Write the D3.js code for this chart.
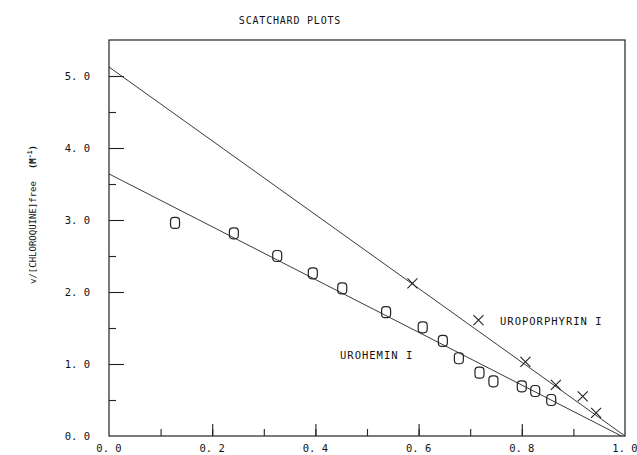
<!DOCTYPE html>
<html>
<head>
<meta charset="utf-8">
<script src="https://cdn.jsdelivr.net/npm/d3@7"></script>
<style>
  body { margin: 0; background: #fff; }
  text { font-family: "DejaVu Sans Mono", monospace; fill: #111; }
</style>
</head>
<body>
<svg width="637" height="455"></svg>
<script>
// urohemin I points (O markers)
let heminX = [0.128, 0.242, 0.326, 0.395, 0.452, 0.537, 0.608, 0.647, 0.678, 0.718, 0.745, 0.800, 0.826, 0.857];
let heminY = [2.96, 2.815, 2.50, 2.26, 2.05, 1.72, 1.51, 1.32, 1.08, 0.88, 0.76, 0.69, 0.625, 0.50];
// uroporphyrin I points (X markers)
let uroX = [0.588, 0.716, 0.807, 0.866, 0.918, 0.944];
let uroY = [2.12, 1.61, 1.03, 0.71, 0.55, 0.32];
// fitted lines (x, y end points)
let heminFit = [[0, 3.64], [0.993, 0]];
let uroFit = [[0, 5.125], [1.0, 0]];

let xTicks = [0, 0.2, 0.4, 0.6, 0.8, 1.0];
let yTicks = [0, 1, 2, 3, 4, 5];

let plotLeft = 109, plotRight = 625, plotTop = 40, plotBottom = 436;

var svg = d3.select('svg');

var x = d3.scaleLinear().domain([0, 1]).range([plotLeft, plotRight]);
var y = d3.scaleLinear().domain([0, 5.5]).range([plotBottom, plotTop]);

// frame
svg.append('rect')
    .attr('x', plotLeft)
    .attr('y', plotTop)
    .attr('width', plotRight - plotLeft)
    .attr('height', plotBottom - plotTop)
    .attr('fill', 'none')
    .attr('stroke', '#222')
    .attr('stroke-width', 1.2);

// x axis, ticks pointing inward
var xMinor = svg.append('g').attr('transform', `translate(0, ${plotBottom})`);
xMinor.call(d3.axisTop(x).tickValues(d3.range(0.1, 1.0, 0.1)).tickSize(7).tickFormat(''));
xMinor.select('.domain').remove();
var xMajor = svg.append('g').attr('transform', `translate(0, ${plotBottom})`);
xMajor.call(d3.axisTop(x).tickValues(xTicks.slice(1, 5)).tickSize(12).tickFormat(''));
xMajor.select('.domain').remove();

svg.append('g').selectAll('text')
    .data(xTicks)
    .enter()
    .append('text')
    .attr('x', d => x(d))
    .attr('y', 452)
    .attr('text-anchor', 'middle')
    .attr('font-size', 10.5)
    .text(d => d.toFixed(1).replace('.', '. '));

// y axis, ticks pointing inward
var yMinor = svg.append('g').attr('transform', `translate(${plotLeft}, 0)`);
yMinor.call(d3.axisRight(y).tickValues([0.5, 1.5, 2.5, 3.5, 4.5]).tickSize(7).tickFormat(''));
yMinor.select('.domain').remove();
var yMajor = svg.append('g').attr('transform', `translate(${plotLeft}, 0)`);
yMajor.call(d3.axisRight(y).tickValues(yTicks.slice(1)).tickSize(15).tickFormat(''));
yMajor.select('.domain').remove();
svg.selectAll('.tick line').attr('stroke', '#222').attr('stroke-width', 1.1);

svg.append('g').selectAll('text')
    .data(yTicks)
    .enter()
    .append('text')
    .attr('x', 90)
    .attr('y', d => y(d) + 4)
    .attr('text-anchor', 'end')
    .attr('font-size', 10.5)
    .text(d => d.toFixed(1).replace('.', '. '));

// fitted lines
var line = d3.line().x(d => x(d[0])).y(d => y(d[1]));
[heminFit, uroFit].forEach(f => {
    svg.append('path')
        .attr('d', line(f))
        .attr('fill', 'none')
        .attr('stroke', '#222')
        .attr('stroke-width', 0.9);
});

// O markers
svg.append('g').selectAll('rect')
    .data(heminX.map((d, i) => [d, heminY[i]]))
    .enter()
    .append('rect')
    .attr('x', d => x(d[0]) - 4.5)
    .attr('y', d => y(d[1]) - 5.5)
    .attr('width', 9)
    .attr('height', 11)
    .attr('rx', 3.5)
    .attr('ry', 3.5)
    .attr('fill', 'none')
    .attr('stroke', '#222')
    .attr('stroke-width', 1.2);

// X markers
svg.append('g').selectAll('path')
    .data(uroX.map((d, i) => [d, uroY[i]]))
    .enter()
    .append('path')
    .attr('d', 'M-5,-5L5,5M-5,5L5,-5')
    .attr('transform', d => `translate(${x(d[0])}, ${y(d[1])})`)
    .attr('fill', 'none')
    .attr('stroke', '#222')
    .attr('stroke-width', 1.1);

// labels
svg.append('text')
    .attr('x', 290)
    .attr('y', 24)
    .attr('text-anchor', 'middle')
    .attr('font-size', 10)
    .attr('letter-spacing', 0.8)
    .text('SCATCHARD PLOTS');

svg.append('text')
    .attr('x', 500)
    .attr('y', 325)
    .attr('font-size', 10.5)
    .attr('letter-spacing', 1)
    .text('UROPORPHYRIN I');

svg.append('text')
    .attr('x', 340)
    .attr('y', 359)
    .attr('font-size', 10.5)
    .attr('letter-spacing', 1)
    .text('UROHEMIN I');

var yLabel = svg.append('text')
    .attr('transform', 'translate(36, 284) rotate(-90)')
    .attr('font-size', 9);
yLabel.append('tspan').text('v/[CHLOROQUINE]free');
yLabel.append('tspan').attr('dx', 12).attr('font-weight', 'bold').text('(M');
yLabel.append('tspan').attr('dy', -4).attr('font-size', 6.5).attr('font-weight', 'bold').text('-1');
yLabel.append('tspan').attr('dy', 4).attr('font-weight', 'bold').text(')');
</script>
</body>
</html>
